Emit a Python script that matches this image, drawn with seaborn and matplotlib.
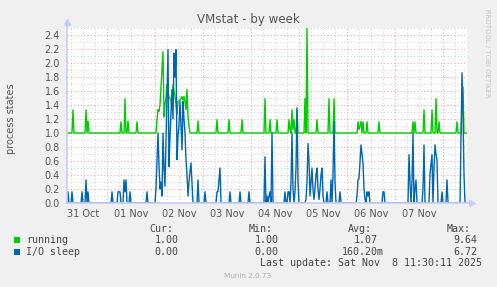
import matplotlib
matplotlib.use("Agg")
import matplotlib.pyplot as plt
import matplotlib.dates as mdates
from matplotlib.patches import Rectangle
from matplotlib.ticker import FuncFormatter
import numpy as np
import pandas as pd
import seaborn as sns

# ---------------- data ----------------
TITLE = "VMstat - by week"
Y_LABEL = "process states"
SERIES = ["running", "I/O sleep"]
COLORS = ["#00CC00", "#0066B3"]
WINDOW = ("2025-10-31 04:00", "2025-11-08 12:00")
STEP = "30min"
BASELINE = [1.0, 0.0]
Y_TICKS = [0.0, 0.2, 0.4, 0.6, 0.8, 1.0, 1.2, 1.4, 1.6, 1.8, 2.0, 2.2, 2.4]

# (start time, consecutive 30-min samples)
RUNNING_BURSTS = [
    ("2025-10-31 06:30", [1.0, 1.33, 1.0]),
    ("2025-10-31 13:00", [1.0, 1.33, 1.0, 1.17, 1.0]),
    ("2025-11-01 06:30", [1.0, 1.16, 1.0]),
    ("2025-11-01 08:30", [1.0, 1.49, 1.0, 1.0, 1.17, 1.0]),
    ("2025-11-01 14:30", [1.0, 1.16, 1.0]),
    ("2025-11-02 00:30", [1.0, 1.19, 1.33, 1.31, 1.4, 1.66, 1.9, 2.16, 1.23, 1.4,
                          1.5, 1.69, 1.6, 1.5, 1.5, 1.45, 1.33, 1.69, 1.6, 1.52,
                          1.4, 1.26, 1.45, 1.46, 1.47, 1.5, 1.52, 1.47, 1.52, 1.45,
                          1.33, 1.62, 1.24, 1.1, 1.0]),
    ("2025-11-02 21:00", [1.0, 1.17, 1.0]),
    ("2025-11-03 06:30", [1.0, 1.19, 1.0]),
    ("2025-11-03 12:30", [1.0, 1.19, 1.0]),
    ("2025-11-03 19:00", [1.0, 1.19, 1.0]),
    ("2025-11-04 06:30", [1.0, 1.49, 1.0]),
    ("2025-11-04 09:00", [1.0, 1.19, 1.0]),
    ("2025-11-04 12:30", [1.0, 1.19, 1.0]),
    ("2025-11-04 18:30", [1.0, 1.19, 1.05, 1.0, 1.33, 1.05, 1.19, 1.0, 1.0, 1.33, 1.0]),
    ("2025-11-05 02:30", [1.0, 1.49, 1.0, 2.5, 1.0]),
    ("2025-11-05 08:30", [1.0, 1.19, 1.0]),
    ("2025-11-05 14:30", [1.0, 1.49, 1.0, 1.0, 1.0, 1.0, 1.49, 1.0]),
    ("2025-11-06 05:00", [1.0, 1.16, 1.05, 1.1, 1.16, 1.0, 1.16, 1.0, 1.0, 1.0, 1.16, 1.0]),
    ("2025-11-06 15:30", [1.0, 1.16, 1.0]),
    ("2025-11-07 08:30", [1.0, 1.16, 1.0, 1.16, 1.0]),
    ("2025-11-07 14:00", [1.0, 1.33, 1.0]),
    ("2025-11-07 18:00", [1.0, 1.33, 1.0, 1.0, 1.0, 1.49, 1.0, 1.0, 1.16, 1.0]),
    ("2025-11-08 06:30", [1.0, 1.16, 1.0]),
    ("2025-11-08 09:00", [1.0, 1.3, 1.66, 1.0]),
]

IO_BURSTS = [
    ("2025-10-31 04:00", [0.0, 0.16, 0.0]),
    ("2025-10-31 06:00", [0.0, 0.16, 0.0]),
    ("2025-10-31 11:00", [0.0, 0.16, 0.0]),
    ("2025-10-31 13:00", [0.0, 0.33, 0.0, 0.16, 0.0]),
    ("2025-11-01 02:00", [0.0, 0.16, 0.0]),
    ("2025-11-01 05:00", [0.0, 0.16, 0.16, 0.16, 0.0, 0.0, 0.0, 0.33, 0.16, 0.33, 0.0]),
    ("2025-11-01 11:00", [0.0, 0.16, 0.0]),
    ("2025-11-01 19:30", [0.0, 0.16, 0.0]),
    ("2025-11-02 00:00", [0.0, 0.2, 0.6, 1.0, 0.55, 0.2, 0.3, 0.1, 1.0, 0.5,
                          0.24, 0.9, 1.52, 2.19, 0.52, 0.95, 1.3, 1.62, 1.2, 2.14,
                          1.8, 2.19, 0.62, 0.95, 1.1, 1.45, 1.1, 0.76, 1.45, 1.2,
                          1.0, 0.62, 0.4, 0.1, 0.3, 0.45, 0.57, 0.3, 0.0]),
    ("2025-11-02 21:00", [0.0, 0.33, 0.0]),
    ("2025-11-03 00:30", [0.0, 0.16, 0.0]),
    ("2025-11-03 06:30", [0.0, 0.16, 0.16, 0.33, 0.5, 0.0]),
    ("2025-11-03 13:00", [0.0, 0.16, 0.0]),
    ("2025-11-03 18:00", [0.0, 0.16, 0.0]),
    ("2025-11-03 22:30", [0.0, 0.16, 0.0]),
    ("2025-11-04 06:30", [0.0, 0.66, 0.0, 0.1, 0.0, 0.1, 0.16, 0.0, 1.0, 0.0]),
    ("2025-11-04 16:30", [0.0, 0.16, 0.0, 0.0, 0.16, 0.16, 0.0, 0.3, 1.0, 0.2,
                          0.0, 0.16, 0.5, 1.36, 0.3, 0.0]),
    ("2025-11-05 03:00", [0.0, 0.05, 0.3, 0.85, 0.6, 0.1, 0.3, 0.5, 0.2, 0.05,
                          0.2, 0.4, 0.5, 0.2, 0.05, 0.2, 0.4, 0.5, 0.1, 0.0]),
    ("2025-11-05 13:30", [0.0, 0.16, 0.0, 0.0, 0.0, 0.33, 0.0, 0.4, 1.16, 0.3, 0.0]),
    ("2025-11-05 20:00", [0.0, 0.16, 0.0]),
    ("2025-11-06 04:30", [0.0, 0.1, 0.33, 0.35, 0.6, 0.83, 0.7, 0.57, 0.2, 0.05,
                          0.0, 0.16, 0.1, 0.16, 0.0]),
    ("2025-11-06 17:30", [0.0, 0.16, 0.16, 0.0]),
    ("2025-11-07 06:30", [0.0, 0.69, 0.3, 0.0, 0.3, 1.0, 0.0, 0.2, 0.33, 0.0]),
    ("2025-11-07 13:30", [0.0, 0.2, 0.83, 0.0]),
    ("2025-11-07 17:00", [0.0, 0.42, 0.55, 0.69, 0.0, 0.5, 0.83, 0.7, 0.62, 0.0]),
    ("2025-11-07 23:00", [0.0, 0.16, 0.0]),
    ("2025-11-08 01:30", [0.0, 0.33, 0.0]),
    ("2025-11-08 08:30", [0.0, 0.9, 1.86, 1.3, 0.4, 0.0]),
]

STATS_HEAD = ["Cur:", "Min:", "Avg:", "Max:"]
RUNNING_STATS = ["1.00", "1.00", "1.07", "9.64"]
IO_STATS = ["0.00", "0.00", "160.20m", "6.72"]
LAST_UPDATE = "Last update: Sat Nov  8 11:30:11 2025"
FOOTER = "Munin 2.0.73"
WATERMARK = "RRDTOOL / TOBI OETIKER"


def build(bursts, base):
    pts = {pd.Timestamp(WINDOW[0]): base, pd.Timestamp(WINDOW[1]): base}
    for start, vals in bursts:
        for t, v in zip(pd.date_range(start, periods=len(vals), freq=STEP), vals):
            pts[t] = v
    return pd.Series(pts).sort_index()


frames = []
for name, bursts, base in zip(SERIES, [RUNNING_BURSTS, IO_BURSTS], BASELINE):
    s = build(bursts, base)
    frames.append(pd.DataFrame({"time": s.index, "value": s.values, "series": name}))
df = pd.concat(frames, ignore_index=True)

# ---------------- layout ----------------
W, H = 497, 287
fig = plt.figure(figsize=(W / 100, H / 100), dpi=100, facecolor="#F0F0F0")
X0, X1, Y0, Y1 = 67, 467, 203, 28
ax = fig.add_axes([X0 / W, 1 - Y0 / H, (X1 - X0) / W, (Y0 - Y1) / H])
ax.set_facecolor("white")

TXT = "#555555"
MGRID = "#E8AFAF"
GRID = "#D6D6D6"
AXIS = "#C8CCF4"
DOT = (0, (1, 2))

sns.lineplot(data=df, x="time", y="value", hue="series", hue_order=SERIES,
             palette=dict(zip(SERIES, COLORS)), estimator=None, sort=False,
             legend=False, linewidth=1.0, ax=ax)

t_start, t_end = pd.Timestamp(WINDOW[0]), pd.Timestamp(WINDOW[1])
ax.set_xlim(t_start, t_end)
ax.set_ylim(0, 2.5)

# y grid
ax.set_yticks(Y_TICKS)
ax.set_yticks([v + 0.1 for v in Y_TICKS], minor=True)
ax.set_yticklabels([f"{v:.1f}" for v in Y_TICKS])


def day_label(x, p):
    d = mdates.num2date(x).replace(tzinfo=None)
    if d.hour == 12 and pd.Timestamp(d) < t_end:
        return d.strftime("%d %b")
    return ""


# x grid: major at midnight (red), minor every 6h (grey), labels at noon
ax.xaxis.set_major_locator(mdates.HourLocator(byhour=[0]))
ax.xaxis.set_major_formatter(FuncFormatter(lambda x, p: ""))
ax.xaxis.set_minor_locator(mdates.HourLocator(byhour=[6, 12, 18]))
ax.xaxis.set_minor_formatter(FuncFormatter(day_label))

ax.grid(which="major", color=MGRID, linestyle=DOT, linewidth=0.8, zorder=0)
ax.grid(which="minor", color=GRID, linestyle=DOT, linewidth=0.8, zorder=0)
ax.set_axisbelow(True)

ax.tick_params(axis="both", which="both", length=0, colors=TXT, labelsize=7)
ax.tick_params(axis="y", pad=5)
ax.tick_params(axis="x", which="minor", pad=4)
ax.set_xlabel("")
ax.set_ylabel("")

for sp in ["top", "right"]:
    ax.spines[sp].set_visible(False)
for sp in ["left", "bottom"]:
    ax.spines[sp].set_color(AXIS)
    ax.spines[sp].set_linewidth(1.2)
    ax.spines[sp].set_zorder(5)
ax.spines["left"].set_bounds(0, 2.55)
ax.spines["bottom"].set_bounds(mdates.date2num(t_start), mdates.date2num(t_end) + 0.08)
# arrows
ax.plot([0], [1.035], marker="^", markersize=5, color=AXIS, transform=ax.transAxes,
        clip_on=False, zorder=6)
ax.plot([1.012], [0], marker=">", markersize=5, color=AXIS, transform=ax.transAxes,
        clip_on=False, zorder=6)


def fx(x):
    return x / W


def fy(y):
    return 1 - y / H


fig.text(fx(248.5), fy(20), TITLE, ha="center", va="center", fontsize=8.6, color=TXT)
fig.text(fx(11), fy(119), Y_LABEL, ha="center", va="center", rotation=90,
         fontsize=7, color=TXT)
fig.text(fx(487.5), fy(53), WATERMARK, ha="center", va="center", rotation=270,
         fontsize=5, color="#C4C4C4")

MONO = "DejaVu Sans Mono"
LTXT = "#444444"
FS = 7.2
head_left = [149, 249, 348, 447]
for x, h in zip(head_left, STATS_HEAD):
    fig.text(fx(x), fy(228.5), h, ha="left", va="center", family=MONO, fontsize=FS, color=LTXT)

col_right = [178.5, 278.5, 378, 477]
suffix_shift = 6.0
rows_y = [240, 252]
for i, (name, stats, col) in enumerate(zip(SERIES, [RUNNING_STATS, IO_STATS], COLORS)):
    y = rows_y[i]
    fig.patches.append(Rectangle((fx(14), fy(y + 3)), 6 / W, 6 / H, transform=fig.transFigure,
                                 facecolor=col, edgecolor="none"))
    fig.text(fx(26.5), fy(y), name, ha="left", va="center", family=MONO, fontsize=FS, color=LTXT)
    for xr, v in zip(col_right, stats):
        if v.endswith("m"):
            xr = xr + suffix_shift
        fig.text(fx(xr), fy(y), v, ha="right", va="center", family=MONO, fontsize=FS, color=LTXT)

fig.text(fx(482.5), fy(263.5), LAST_UPDATE, ha="right", va="center", family=MONO,
         fontsize=FS, color=LTXT)
fig.text(fx(248), fy(276.5), FOOTER, ha="center", va="center", fontsize=5.2, color="#B0B0B0")

fig.savefig("out.png", dpi=100, facecolor=fig.get_facecolor())
